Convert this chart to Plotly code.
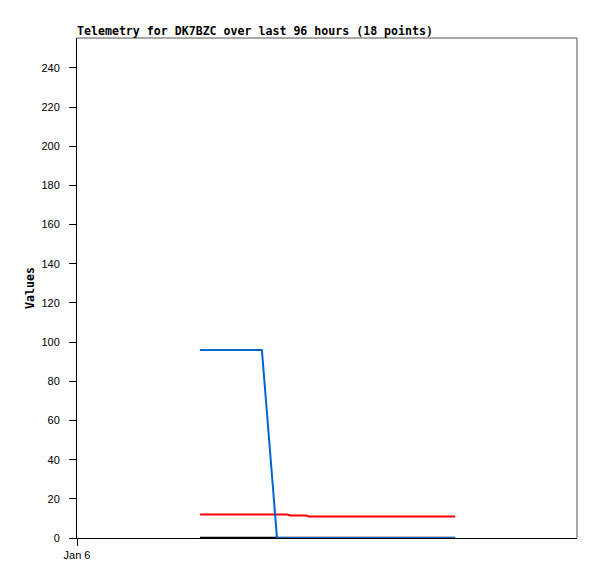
import plotly.graph_objects as go
from datetime import datetime, timedelta

base = datetime(2025, 1, 6)
hours = [23.6, 26.6, 29.6, 32.6, 35.5, 38.4, 40.3, 41.0, 44.0, 44.5, 48, 52, 56, 60, 64, 68, 70.5, 72.6]
series_black = [0] * 18
series_red = [12, 12, 12, 12, 12, 12, 12, 11.5, 11.5, 11, 11, 11, 11, 11, 11, 11, 11, 11]
series_blue = [96, 96, 96, 96, 96, 0, 0, 0, 0, 0, 0, 0, 0, 0, 0, 0, 0, 0]
y_ticks = [0, 20, 40, 60, 80, 100, 120, 140, 160, 180, 200, 220, 240]

times = [base + timedelta(hours=h) for h in hours]

fig = go.Figure()
fig.add_trace(go.Scatter(x=times, y=series_black, mode="lines", line=dict(color="#000000", width=2.5)))
fig.add_trace(go.Scatter(x=times, y=series_red, mode="lines", line=dict(color="#FF0000", width=2)))
fig.add_trace(go.Scatter(x=times, y=series_blue, mode="lines", line=dict(color="#0066CC", width=2)))

fig.update_layout(
    width=597, height=579,
    margin=dict(l=77, r=20, t=38, b=41, autoexpand=False),
    paper_bgcolor="white", plot_bgcolor="white",
    showlegend=False,
    title=dict(text="<b>Telemetry for DK7BZC over last 96 hours (18 points)</b>",
               x=77/597, xanchor="left", y=1 - 31/579, yanchor="middle",
               font=dict(family="DejaVu Sans Mono", size=11.6, color="black")),
    xaxis=dict(type="date", range=[base, base + timedelta(hours=96)],
               tickvals=[base], ticktext=["Jan 6"], ticks="outside", ticklen=7,
               tickcolor="black", showgrid=False, zeroline=False,
               showline=True, linecolor="black", linewidth=1,
               tickfont=dict(family="Liberation Sans", size=11, color="black")),
    yaxis=dict(range=[0, 255.3], tickvals=y_ticks, ticks="outside", ticklen=7,
               tickcolor="black", showgrid=False, zeroline=False,
               showline=True, linecolor="black", linewidth=1,
               ticklabelstandoff=7,
               title=dict(text="<b>Values</b>", standoff=4,
                          font=dict(family="DejaVu Sans Mono", size=11.6, color="black")),
               tickfont=dict(family="Liberation Sans", size=11, color="black")),
    shapes=[
        dict(type="line", xref="paper", yref="paper", x0=0, x1=1, y0=1, y1=1,
             line=dict(color="#555555", width=1)),
        dict(type="line", xref="paper", yref="paper", x0=1, x1=1, y0=0, y1=1,
             line=dict(color="#555555", width=1)),
    ],
)

fig.write_html("out.html", config={"displayModeBar": False},
               post_script="document.body.style.margin='0';document.body.style.overflow='hidden';")
